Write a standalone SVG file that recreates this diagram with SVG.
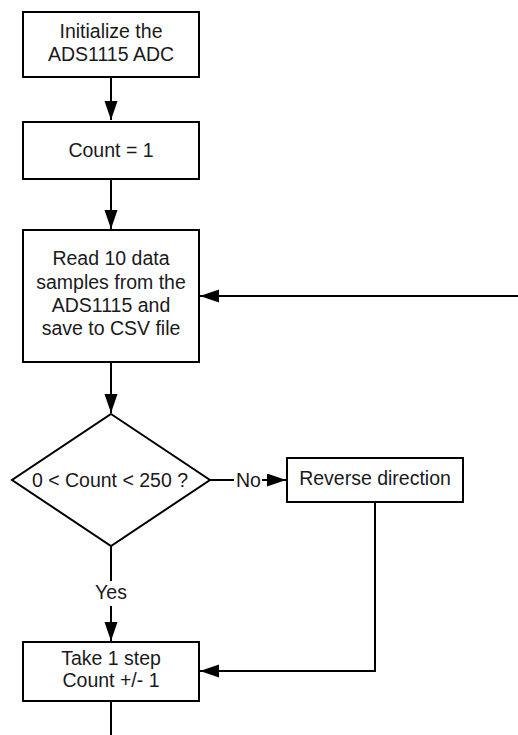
<svg xmlns="http://www.w3.org/2000/svg" width="518" height="735" viewBox="0 0 518 735">
<style>
.n{fill:#fff;stroke:#000;stroke-width:2}
.t{font-family:"Liberation Sans",Arial,sans-serif;font-size:19.5px;fill:#1a1a1a;text-anchor:middle}
.c{fill:none;stroke:#000;stroke-width:2}
</style>
<defs>
<marker id="ah" markerUnits="userSpaceOnUse" markerWidth="20" markerHeight="14" refX="19" refY="6.5" orient="auto">
<path d="M0,0 L19,6.5 L0,13 Z" fill="#000"/>
</marker>
</defs>
<rect width="518" height="735" fill="#fff"/>
<g id="connectors">
<line class="c" x1="111" y1="78" x2="111" y2="120" marker-end="url(#ah)"/>
<line class="c" x1="111" y1="180" x2="111" y2="229" marker-end="url(#ah)"/>
<line class="c" x1="518" y1="296" x2="200" y2="296" marker-end="url(#ah)"/>
<line class="c" x1="111" y1="363" x2="111" y2="413" marker-end="url(#ah)"/>
<line class="c" x1="210" y1="480" x2="234" y2="480"/>
<text class="t" x="248.5" y="487">No</text>
<line class="c" x1="262" y1="480" x2="286" y2="480" marker-end="url(#ah)"/>
<line class="c" x1="111" y1="546" x2="111" y2="581"/>
<text class="t" x="111" y="599">Yes</text>
<line class="c" x1="111" y1="606" x2="111" y2="641" marker-end="url(#ah)"/>
<polyline class="c" points="375,502 375,671 200,671" marker-end="url(#ah)"/>
<line class="c" x1="111" y1="701" x2="111" y2="735"/>
</g>
<g id="init">
<rect class="n" x="23" y="12" width="176" height="65"/>
<text class="t" x="111" y="38">Initialize the</text>
<text class="t" x="111" y="61">ADS1115 ADC</text>
</g>
<g id="count">
<rect class="n" x="23" y="122" width="176" height="57"/>
<text class="t" x="111" y="156.5">Count = 1</text>
</g>
<g id="read">
<rect class="n" x="23" y="230" width="176" height="132"/>
<text class="t" x="111" y="265">Read 10 data</text>
<text class="t" x="111" y="289">samples from the</text>
<text class="t" x="111" y="312">ADS1115 and</text>
<text class="t" x="111" y="335">save to CSV file</text>
</g>
<g id="decision">
<polygon class="n" points="111,414 210,480 111,546 12,480"/>
<text class="t" x="110" y="487">0 &lt; Count &lt; 250 ?</text>
</g>
<g id="reverse">
<rect class="n" x="287" y="458" width="176" height="44"/>
<text class="t" x="375" y="485">Reverse direction</text>
</g>
<g id="step">
<rect class="n" x="23" y="642" width="176" height="59"/>
<text class="t" x="111" y="665">Take 1 step</text>
<text class="t" x="111" y="687">Count +/- 1</text>
</g>
</svg>
